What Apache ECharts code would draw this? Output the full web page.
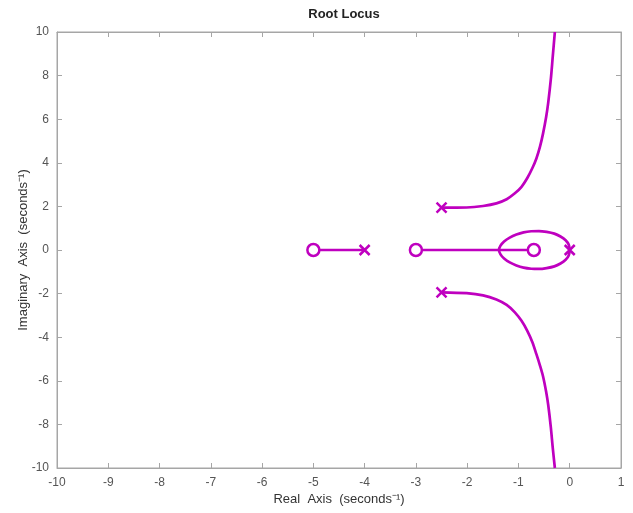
<!DOCTYPE html>
<html>
<head>
<meta charset="utf-8">
<script src="https://cdn.jsdelivr.net/npm/echarts@6/dist/echarts.min.js"></script>
<style>
  html, body { margin: 0; padding: 0; background: #fff; }
  #chart { width: 633px; height: 513px; }
</style>
</head>
<body>
<div id="chart"></div>
<script>
// Open-loop poles (x) and zeros (o) as [real, imag]
const poles = [[0, 0], [-4, 0], [-2.5, 1.94], [-2.5, -1.94]];
const zeros = [[-5, 0], [-3, 0], [-0.7, 0]];

// Locus branches as [real, imag] points
const branchUpper = [
  [-2.5, 1.94], [-2.01, 1.95], [-1.69, 2.02], [-1.43, 2.14], [-1.23, 2.33],
  [-1.07, 2.6], [-0.94, 2.9], [-0.83, 3.29], [-0.73, 3.75], [-0.65, 4.2],
  [-0.58, 4.74], [-0.52, 5.35], [-0.46, 6.1], [-0.42, 6.75], [-0.37, 7.8],
  [-0.33, 8.9], [-0.29, 10]
];
const branchLower = [
  [-2.5, -1.94], [-2.01, -1.98], [-1.69, -2.08], [-1.43, -2.27], [-1.23, -2.52],
  [-1.07, -2.86], [-0.94, -3.25], [-0.83, -3.7], [-0.73, -4.22], [-0.65, -4.78],
  [-0.58, -5.3], [-0.52, -5.8], [-0.46, -6.5], [-0.42, -7.1], [-0.37, -8.1],
  [-0.33, -9.1], [-0.29, -10]
];
const branchLoop = [
  [0, 0], [-0.02, 0.25], [-0.08, 0.45], [-0.18, 0.62], [-0.3, 0.75],
  [-0.45, 0.83], [-0.6, 0.87], [-0.75, 0.86], [-0.9, 0.81], [-1.04, 0.71],
  [-1.17, 0.57], [-1.28, 0.39], [-1.35, 0.2], [-1.38, 0],
  [-1.35, -0.2], [-1.28, -0.39], [-1.17, -0.57], [-1.04, -0.71], [-0.9, -0.81],
  [-0.75, -0.86], [-0.6, -0.87], [-0.45, -0.83], [-0.3, -0.75], [-0.18, -0.62],
  [-0.08, -0.45], [-0.02, -0.25], [0, 0]
];
const branchRealA = [[-4, 0], [-5, 0]];
const branchRealB = [[-3, 0], [-0.7, 0]];

const xTicks = { min: -10, max: 1, step: 1 };
const yTicks = { min: -10, max: 10, step: 2 };

const xTitle = 'Real  Axis  (seconds\u207B\u00B9)';
const yTitle = 'Imaginary  Axis  (seconds\u207B\u00B9)';

const locusColor = '#BF00BF';
const axisGray = '#a6a6a6';
const labelGray = '#555555';
const font = 'Liberation Sans, Arial, sans-serif';

const crossPath = 'path://M0,0L10,10M10,0L0,10';

function lineSeries(data, smooth) {
  return {
    type: 'line', data: data, showSymbol: false, silent: true,
    smooth: smooth || false,
    lineStyle: { color: locusColor, width: 2.7 },
    clip: true, z: 2
  };
}

const chart = echarts.init(document.getElementById('chart'), null, { renderer: 'canvas' });

const tickStyle = { inside: true, length: 5, lineStyle: { color: axisGray } };
const frameLine = { show: true, onZero: false, lineStyle: { color: axisGray } };
const titleText = { fontFamily: font, fontSize: 13, fill: '#333', align: 'center', verticalAlign: 'middle' };

chart.setOption({
  animation: false,
  backgroundColor: '#ffffff',
  title: {
    text: 'Root Locus', left: 339, top: 3, textAlign: 'center',
    textStyle: { fontFamily: font, fontSize: 13, fontWeight: 'bold', color: '#222' }
  },
  // Axis titles placed as free text so they sit close to the tick labels
  graphic: [
    { type: 'text', x: 339, y: 499, style: Object.assign({ text: xTitle }, titleText), silent: true },
    { type: 'text', x: 23, y: 250, rotation: Math.PI / 2, style: Object.assign({ text: yTitle }, titleText), silent: true }
  ],
  grid: { left: 57, right: 12, top: 32, bottom: 45, containLabel: false,
          show: true, borderColor: axisGray, borderWidth: 1 },
  xAxis: [{
    type: 'value', min: xTicks.min, max: xTicks.max, interval: xTicks.step,
    position: 'bottom',
    axisLine: frameLine,
    axisTick: tickStyle,
    axisLabel: { fontFamily: font, fontSize: 12, color: labelGray, margin: 9 },
    splitLine: { show: false }
  }, {
    type: 'value', min: xTicks.min, max: xTicks.max, interval: xTicks.step,
    position: 'top',
    axisLine: frameLine,
    axisTick: tickStyle, axisLabel: { show: false }, splitLine: { show: false }
  }],
  yAxis: [{
    type: 'value', min: yTicks.min, max: yTicks.max, interval: yTicks.step,
    position: 'left',
    axisLine: frameLine,
    axisTick: tickStyle,
    axisLabel: { fontFamily: font, fontSize: 12, color: labelGray, margin: 8 },
    splitLine: { show: false }
  }, {
    type: 'value', min: yTicks.min, max: yTicks.max, interval: yTicks.step,
    position: 'right',
    axisLine: frameLine,
    axisTick: tickStyle, axisLabel: { show: false }, splitLine: { show: false }
  }],
  series: [
    lineSeries(branchUpper, 0.3),
    lineSeries(branchLower, 0.3),
    lineSeries(branchLoop, 0.3),
    lineSeries(branchRealA),
    lineSeries(branchRealB),
    {
      type: 'scatter', data: poles, symbol: crossPath, symbolSize: 10,
      itemStyle: { color: 'transparent', borderColor: locusColor, borderWidth: 2.5, opacity: 1 },
      z: 3, silent: true
    },
    {
      type: 'scatter', data: zeros, symbol: 'circle', symbolSize: 12,
      itemStyle: { color: '#ffffff', borderColor: locusColor, borderWidth: 2.5, opacity: 1 },
      z: 3, silent: true
    }
  ]
});
</script>
</body>
</html>
